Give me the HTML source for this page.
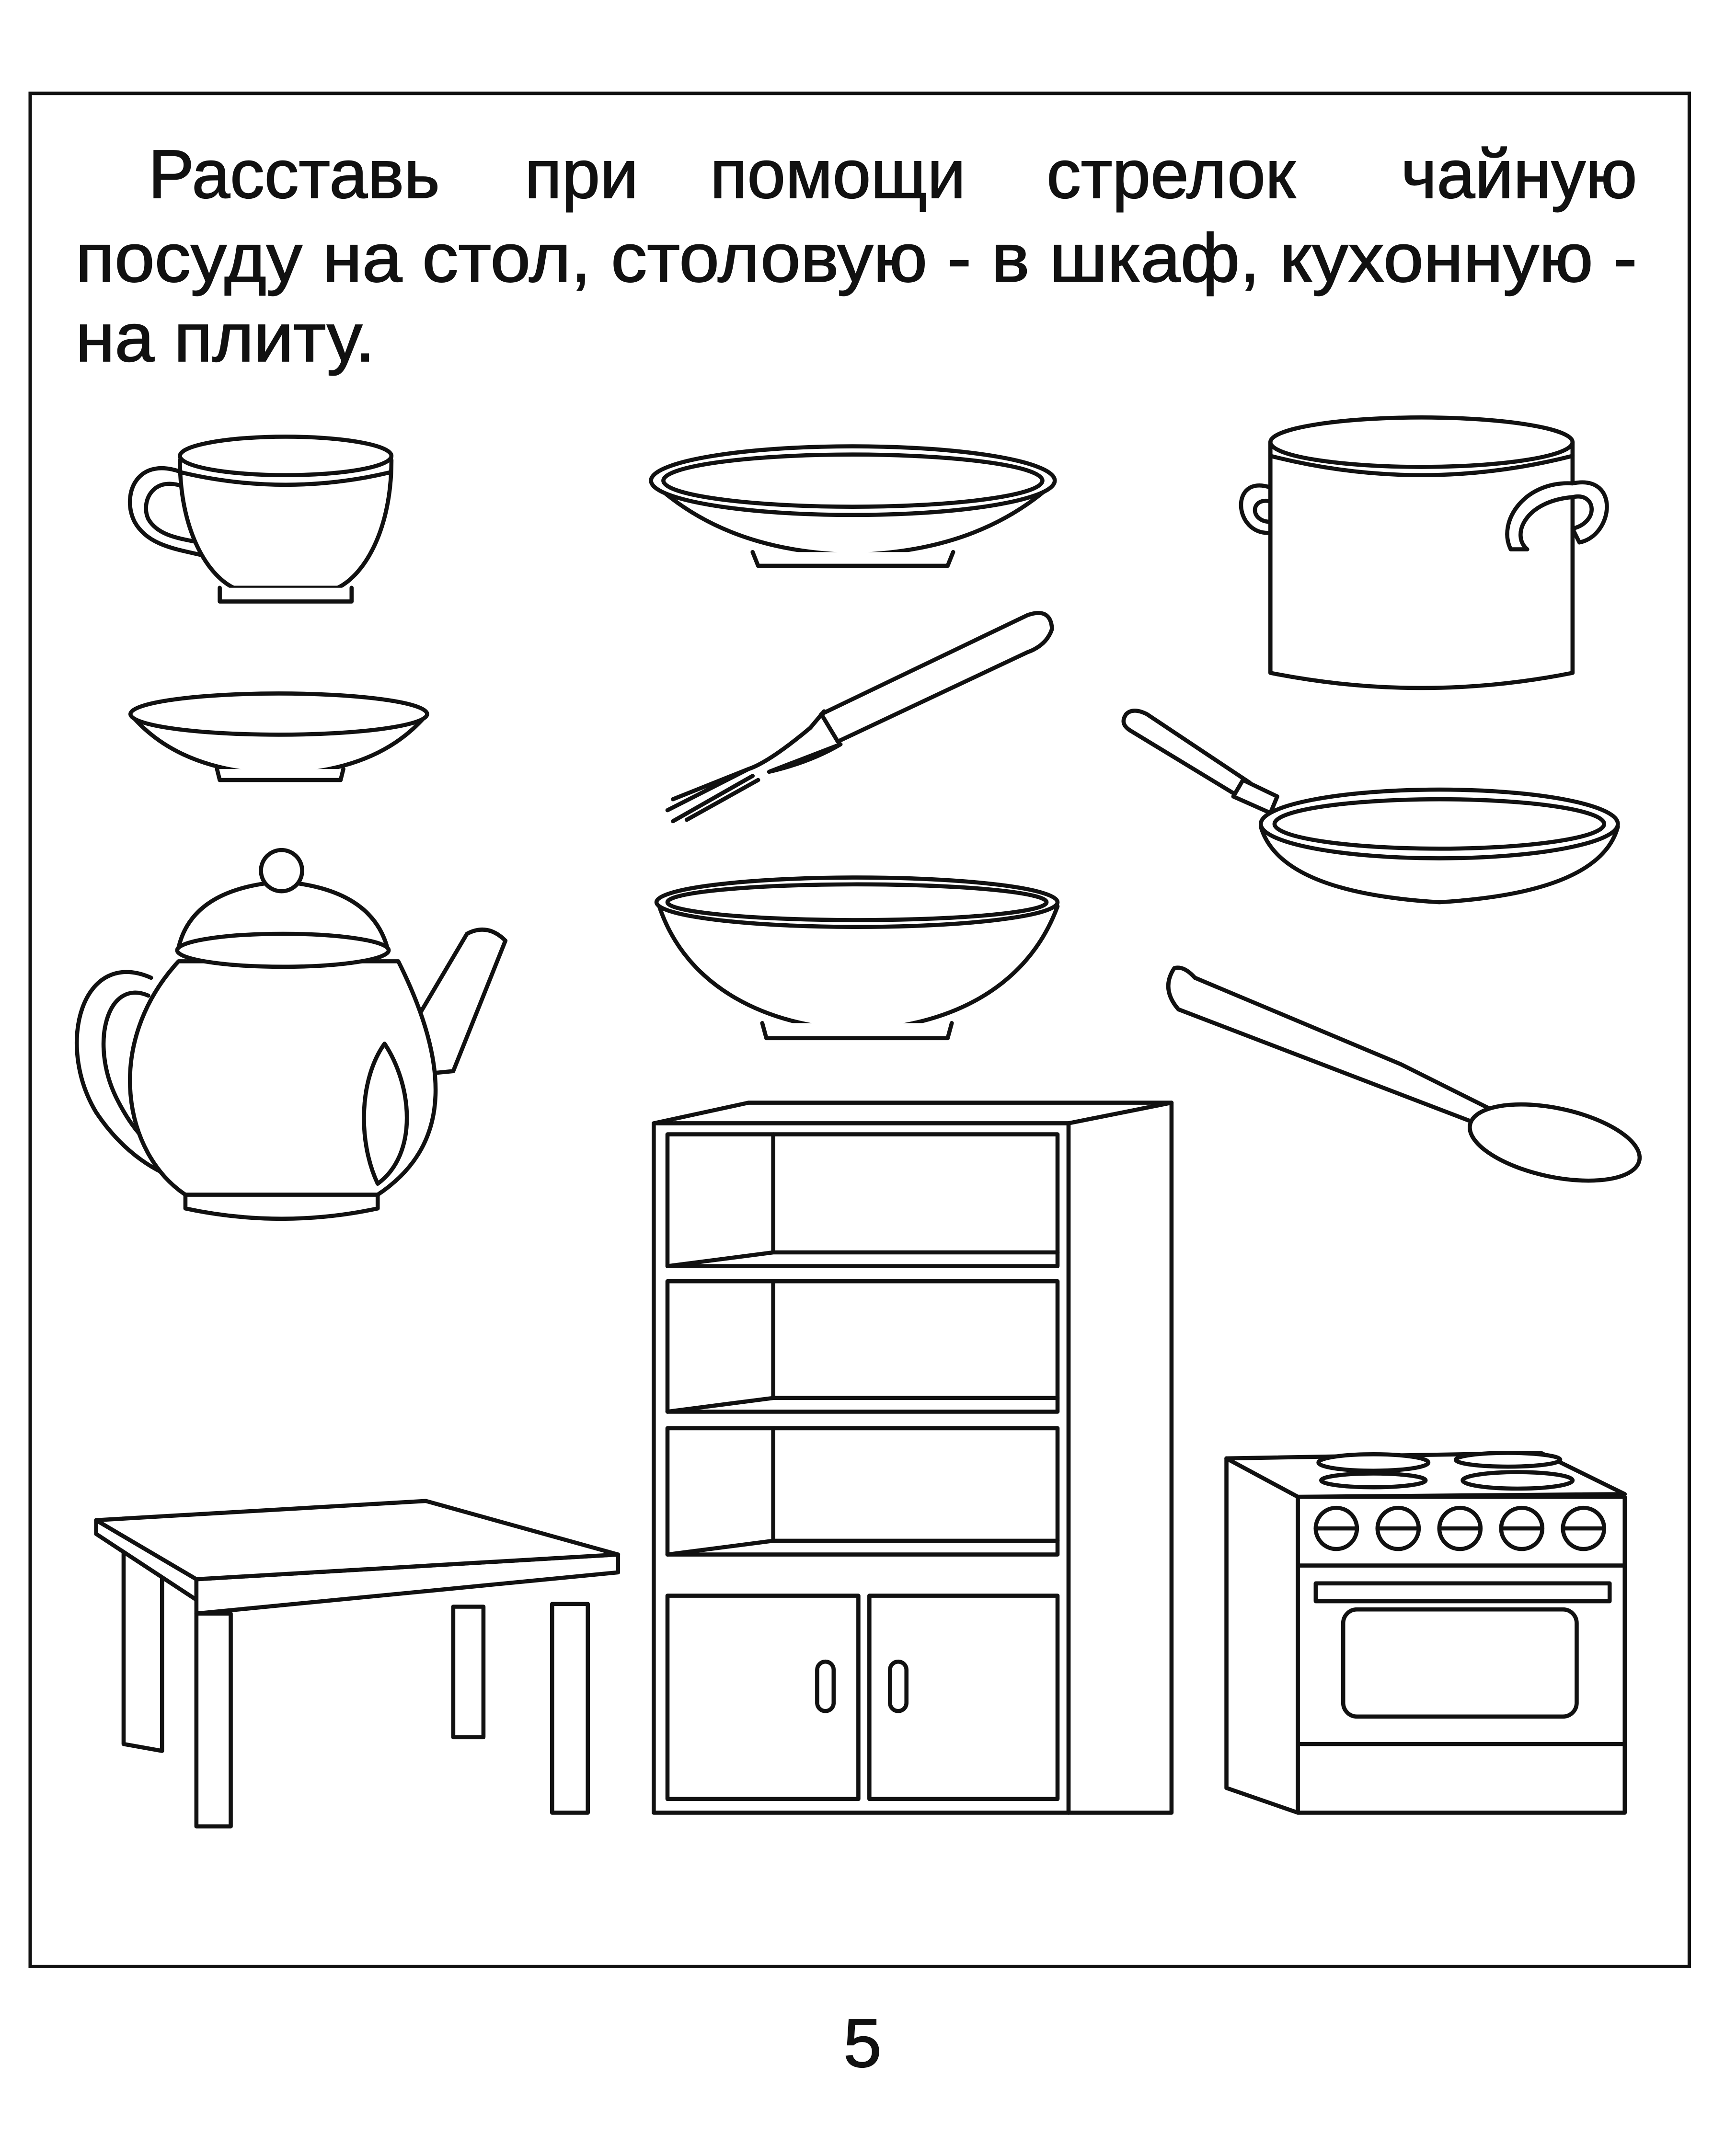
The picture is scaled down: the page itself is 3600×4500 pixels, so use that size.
<!DOCTYPE html>
<html><head><meta charset="utf-8"><style>
html,body{margin:0;padding:0;background:#fff;}
svg{display:block;}
</style></head><body>
<svg width="3600" height="4500" viewBox="0 0 1256 1570" preserveAspectRatio="none" xmlns="http://www.w3.org/2000/svg">
<rect width="1256" height="1570" fill="#fff"/>
<rect x="22" y="68" width="1208" height="1364" fill="none" stroke="#111" stroke-width="2.5"/>
<g font-family="Liberation Sans, DejaVu Sans, sans-serif" font-size="50" fill="#111" stroke="#111" stroke-width="0.7">
<text x="108" y="144">Расставь</text>
<text x="382" y="144">при</text>
<text x="517" y="144">помощи</text>
<text x="762" y="144">стрелок</text>
<text x="1192" y="144" text-anchor="end">чайную</text>
<text x="55" y="205" textLength="1137" lengthAdjust="spacingAndGlyphs">посуду на стол, столовую - в шкаф, кухонную -</text>
<text x="55" y="263" textLength="218" lengthAdjust="spacingAndGlyphs">на плиту.</text>
<text x="628" y="1505" text-anchor="middle" font-size="50">5</text>
</g>
<g fill="#fff" stroke="#111" stroke-width="3" stroke-linejoin="round" stroke-linecap="round">
<path d="M135 345 C100 330 88 360 98 380 C108 398 130 400 150 405 M135 355 C112 345 102 365 108 378 C115 390 130 392 145 395" fill="none"/>
<path d="M131 335 C131 385 150 418 170 428 L246 428 C266 418 285 385 285 335 Z"/>
<ellipse cx="208" cy="332" rx="77" ry="14"/>
<path d="M132 344 Q208 362 284 344" fill="none"/>
<path d="M160 428 L160 438 L256 438 L256 428" />
<path d="M95 520 Q130 562 203 564 Q276 562 311 520 Z"/>
<ellipse cx="203" cy="520" rx="108" ry="15"/>
<path d="M158 560 L160 568 L248 568 L250 560"/>
<path d="M110 712 C60 690 40 760 70 810 C90 840 115 855 135 860 M108 725 C78 712 65 760 85 800 C100 830 115 840 130 845" fill="none"/>
<path d="M278 785 L340 680 Q355 672 368 685 L330 780 Z"/>
<path d="M130 700 C75 760 90 840 135 870 L275 870 C320 840 335 790 290 700 Z"/>
<path d="M280 760 C300 790 305 840 275 862 C260 830 262 785 280 760 Z"/>
<path d="M135 880 L135 870 L275 870 L275 880 Q205 895 135 880 Z"/>
<path d="M130 690 Q140 647 205 642 Q270 647 282 690 Z"/>
<ellipse cx="206" cy="692" rx="77" ry="12"/>
<circle cx="205" cy="634" r="15"/>
<path d="M476 352 Q530 402 621 404 Q712 402 767 352 Z"/>
<ellipse cx="621" cy="350" rx="147" ry="25"/>
<ellipse cx="621" cy="350" rx="138" ry="19" fill="none"/>
<path d="M548 402 L552 412 L690 412 L694 402"/>
<path d="M598 520 L748 448 Q765 442 766 458 Q762 470 748 475 L610 540 Z"/>
<path d="M600 518 L590 530 Q560 555 545 560 L490 582 M545 560 L486 590 M548 565 L490 598 M552 568 L500 597 M560 562 Q590 555 612 542 Z"/>
<path d="M480 660 C500 720 560 748 624 750 C690 748 748 720 770 660 Z"/>
<ellipse cx="624" cy="657" rx="146" ry="18"/>
<ellipse cx="624" cy="657" rx="138" ry="13" fill="none"/>
<path d="M555 745 L558 756 L690 756 L693 745"/>
<path d="M925 355 C895 345 898 390 925 388 M925 365 C910 362 910 380 925 380" fill="none"/>
<path d="M925 322 L925 490 Q1035 512 1145 490 L1145 322 Z"/>
<ellipse cx="1035" cy="322" rx="110" ry="18"/>
<path d="M925 332 Q1035 360 1145 332" fill="none"/>
<path d="M1145 352 C1180 345 1175 390 1150 395 L1145 385 C1165 380 1162 358 1145 362 C1110 365 1100 390 1112 400 L1100 400 C1090 380 1110 350 1145 352 Z"/>
<path d="M820 520 Q825 515 835 520 L910 570 L902 580 L823 532 Q815 527 820 520 Z"/>
<path d="M905 568 L930 580 L925 592 L898 580 Z"/>
<path d="M918 602 Q932 650 1048 657 Q1165 650 1178 602 Z"/>
<ellipse cx="1048" cy="600" rx="130" ry="25"/>
<ellipse cx="1048" cy="600" rx="120" ry="18" fill="none"/>
<path d="M855 705 Q845 720 858 735 L1080 820 L1090 810 L1020 775 L870 712 Q862 703 855 705 Z"/>
<ellipse cx="1132" cy="832" rx="63" ry="25" transform="rotate(12 1132 832)"/>
<path d="M476 818 L545 803 L853 803 L778 818 Z"/>
<path d="M778 818 L853 803 L853 1320 L778 1320 Z"/>
<rect x="476" y="818" width="302" height="502"/>
<rect x="486" y="826" width="284" height="96"/>
<rect x="486" y="933" width="284" height="95"/>
<rect x="486" y="1040" width="284" height="92"/>
<path d="M563 826 L563 912 M486 922 L563 912 L770 912 M563 933 L563 1018 M486 1028 L563 1018 L770 1018 M563 1040 L563 1122 M486 1132 L563 1122 L770 1122" fill="none"/>
<rect x="486" y="1162" width="139" height="148"/>
<rect x="633" y="1162" width="137" height="148"/>
<rect x="595" y="1210" width="12" height="36" rx="6"/>
<rect x="648" y="1210" width="12" height="36" rx="6"/>
<path d="M90 1125 L90 1270 L118 1275 L118 1130 Z"/>
<path d="M330 1170 L330 1265 L352 1265 L352 1170 Z"/>
<path d="M402 1168 L402 1320 L428 1320 L428 1168 Z"/>
<path d="M143 1175 L143 1330 L168 1330 L168 1175 Z"/>
<path d="M70 1107 L70 1117 L143 1165 L143 1150 Z"/>
<path d="M143 1150 L450 1132 L450 1145 L143 1175 Z"/>
<path d="M70 1107 L310 1093 L450 1132 L143 1150 Z"/>
<path d="M893 1062 L945 1090 L945 1320 L893 1302 Z"/>
<path d="M893 1062 L1122 1058 L1183 1088 L945 1090 Z"/>
<rect x="945" y="1090" width="238" height="230"/>
<ellipse cx="1000" cy="1065" rx="40" ry="6"/>
<ellipse cx="1098" cy="1063" rx="38" ry="5"/>
<ellipse cx="1000" cy="1078" rx="38" ry="5"/>
<ellipse cx="1105" cy="1078" rx="40" ry="6"/>
<circle cx="973" cy="1113" r="15"/><path d="M958 1113 H988" fill="none"/>
<circle cx="1018" cy="1113" r="15"/><path d="M1003 1113 H1033" fill="none"/>
<circle cx="1063" cy="1113" r="15"/><path d="M1048 1113 H1078" fill="none"/>
<circle cx="1108" cy="1113" r="15"/><path d="M1093 1113 H1123" fill="none"/>
<circle cx="1153" cy="1113" r="15"/><path d="M1138 1113 H1168" fill="none"/>
<path d="M945 1140 H1183 M945 1270 H1183" fill="none"/>
<rect x="958" y="1153" width="214" height="13"/>
<rect x="978" y="1172" width="170" height="78" rx="10"/>
</g>
</svg>
</body></html>
